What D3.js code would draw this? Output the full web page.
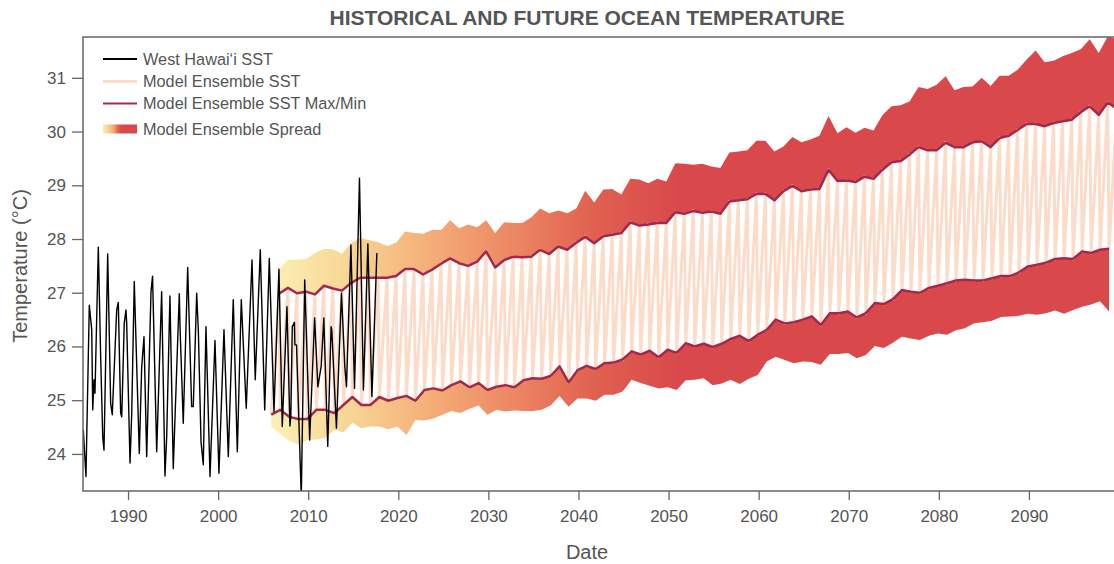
<!DOCTYPE html>
<html>
<head>
<meta charset="utf-8">
<script src="https://cdn.jsdelivr.net/npm/d3@7"></script>
<style>
  html, body { margin: 0; padding: 0; background: #fff; overflow: hidden; }
  svg { display: block; font-family: "Liberation Sans", Arial, Helvetica, sans-serif; }
</style>
</head>
<body>
<svg id="chart" width="1114" height="564"></svg>
<script>
// Observed West Hawai'i sea surface temperature (decimal year, °C)
const obsYear = [
  1985.03, 1985.33, 1985.70, 1985.97, 1986.08, 1986.22, 1986.33, 1986.70, 1986.96, 1987.19,
  1987.33, 1987.74, 1988.07, 1988.25, 1988.74, 1988.92, 1989.18, 1989.30, 1989.58, 1989.77,
  1989.85, 1990.22, 1990.41, 1990.69, 1991.25, 1991.51, 1991.77, 1992.07, 1992.55, 1992.72,
  1993.18, 1993.73, 1994.10, 1994.29, 1994.65, 1995.02, 1995.69, 1995.77, 1996.13, 1996.62,
  1997.06, 1997.24, 1997.62, 1997.80, 1998.10, 1998.35, 1998.65, 1999.10, 1999.65, 2000.09,
  2000.65, 2001.13, 2001.68, 2002.13, 2002.57, 2003.12, 2003.76, 2004.12, 2004.68, 2005.17,
  2005.68, 2006.20, 2006.75, 2007.12, 2007.64, 2007.97, 2008.07, 2008.23, 2008.47, 2008.52,
  2008.70, 2009.23, 2009.61, 2010.16, 2010.71, 2011.07, 2011.44, 2011.73, 2012.17, 2012.54,
  2012.62, 2013.13, 2013.69, 2014.06, 2014.25, 2014.74, 2015.14, 2015.69, 2016.13, 2016.62,
  2017.07, 2017.62
];
const obsTemp = [
  24.45, 23.58, 26.77, 26.31, 24.82, 25.38, 25.13, 27.85, 25.81, 24.32,
  24.07, 27.72, 24.94, 24.73, 26.68, 26.82, 24.76, 24.69, 26.43, 26.68,
  26.43, 23.83, 24.76, 27.21, 24.01, 25.60, 26.18, 23.95, 27.02, 27.31,
  24.04, 27.02, 23.59, 24.32, 26.94, 23.73, 26.98, 26.37, 24.57, 27.47,
  24.88, 24.88, 26.99, 26.31, 24.23, 23.80, 26.37, 23.58, 26.11, 23.64,
  26.31, 23.95, 26.87, 24.04, 26.87, 24.85, 27.61, 25.38, 27.80, 24.82,
  27.64, 24.79, 27.44, 24.51, 26.74, 24.52, 24.70, 26.37, 26.45, 26.03,
  26.03, 23.20, 27.24, 24.26, 26.53, 25.25, 25.63, 26.53, 24.14, 26.37,
  26.30, 24.48, 26.99, 25.63, 25.25, 27.89, 25.22, 29.13, 25.19, 27.91,
  25.07, 27.74
];

// Model ensemble: first projection year, then one value per year
const modelStartYear = 2006;
const ensembleMax = [
  26.98, 27.09, 26.99, 27.02, 26.97, 27.13, 27.08, 27.04, 27.18, 27.28,
  27.28, 27.28, 27.28, 27.31, 27.44, 27.44, 27.34, 27.43, 27.54, 27.64,
  27.55, 27.50, 27.58, 27.77, 27.47, 27.61, 27.67, 27.66, 27.67, 27.80,
  27.72, 27.86, 27.80, 27.93, 28.04, 27.92, 28.05, 28.08, 28.11, 28.31,
  28.25, 28.27, 28.30, 28.30, 28.50, 28.47, 28.52, 28.49, 28.51, 28.47,
  28.70, 28.72, 28.74, 28.84, 28.84, 28.72, 28.89, 28.99, 28.89, 28.92,
  28.93, 29.29, 29.08, 29.09, 29.06, 29.16, 29.12, 29.29, 29.43, 29.45,
  29.57, 29.71, 29.65, 29.65, 29.79, 29.71, 29.71, 29.80, 29.82, 29.71,
  29.88, 29.92, 30.03, 30.14, 30.14, 30.10, 30.16, 30.19, 30.22, 30.36,
  30.47, 30.31, 30.54, 30.43
];
const ensembleMin = [
  24.73, 24.82, 24.69, 24.65, 24.65, 24.82, 24.82, 24.76, 24.91, 25.06,
  24.91, 24.91, 25.06, 24.99, 25.04, 25.08, 24.99, 25.19, 25.22, 25.18,
  25.28, 25.35, 25.24, 25.32, 25.19, 25.25, 25.28, 25.24, 25.37, 25.41,
  25.40, 25.45, 25.63, 25.33, 25.56, 25.64, 25.58, 25.69, 25.70, 25.76,
  25.91, 25.85, 25.92, 25.80, 25.94, 25.88, 26.06, 26.00, 26.05, 25.99,
  26.05, 26.14, 26.20, 26.10, 26.22, 26.31, 26.50, 26.43, 26.45, 26.50,
  26.56, 26.40, 26.62, 26.62, 26.65, 26.54, 26.62, 26.81, 26.79, 26.88,
  27.05, 27.02, 27.00, 27.09, 27.13, 27.18, 27.23, 27.24, 27.23, 27.23,
  27.27, 27.31, 27.31, 27.38, 27.49, 27.52, 27.56, 27.63, 27.64, 27.63,
  27.77, 27.74, 27.80, 27.82
];
const spreadHigh = [
  27.44, 27.61, 27.62, 27.63, 27.74, 27.82, 27.81, 27.72, 27.92, 28.02,
  27.98, 27.94, 27.87, 27.93, 28.14, 28.11, 28.10, 28.17, 28.17, 28.35,
  28.20, 28.27, 28.22, 28.35, 28.11, 28.31, 28.30, 28.30, 28.40, 28.57,
  28.48, 28.53, 28.48, 28.57, 28.90, 28.68, 28.92, 28.93, 28.83, 29.12,
  29.11, 29.04, 29.12, 29.07, 29.41, 29.40, 29.38, 29.40, 29.35, 29.32,
  29.61, 29.63, 29.65, 29.83, 29.83, 29.63, 29.72, 29.90, 29.80, 29.85,
  29.92, 30.29, 29.97, 30.08, 29.98, 30.07, 30.02, 30.31, 30.47, 30.49,
  30.56, 30.83, 30.79, 30.87, 31.03, 30.77, 30.83, 30.84, 31.00, 30.85,
  31.04, 31.04, 31.15, 31.34, 31.51, 31.29, 31.32, 31.40, 31.46, 31.53,
  31.72, 31.46, 31.77, 31.72
];
const spreadLow = [
  24.51, 24.37, 24.24, 24.18, 24.26, 24.27, 24.30, 24.45, 24.40, 24.58,
  24.48, 24.51, 24.51, 24.46, 24.51, 24.35, 24.63, 24.62, 24.66, 24.73,
  24.80, 24.76, 24.84, 24.90, 24.73, 24.82, 24.79, 24.81, 24.80, 24.80,
  24.82, 24.90, 25.08, 24.88, 25.03, 25.03, 24.99, 25.10, 25.10, 25.16,
  25.38, 25.32, 25.27, 25.22, 25.24, 25.19, 25.37, 25.38, 25.41, 25.28,
  25.31, 25.38, 25.30, 25.40, 25.47, 25.72, 25.81, 25.75, 25.69, 25.72,
  25.71, 25.66, 25.86, 25.86, 25.88, 25.78, 25.84, 26.01, 25.97, 26.07,
  26.18, 26.15, 26.12, 26.20, 26.24, 26.22, 26.30, 26.34, 26.43, 26.45,
  26.48, 26.55, 26.56, 26.57, 26.61, 26.59, 26.62, 26.67, 26.61, 26.68,
  26.74, 26.78, 26.84, 26.65
];

const xTicks = [1990, 2000, 2010, 2020, 2030, 2040, 2050, 2060, 2070, 2080, 2090];
const yTicks = [24, 25, 26, 27, 28, 29, 30, 31];

const legendLabels = ["West Hawai\u2018i SST", "Model Ensemble SST", "Model Ensemble SST Max/Min", "Model Ensemble Spread"];

// ---- layout ----
const plot = { left: 83, right: 1119, top: 37, bottom: 491 };
const svg = d3.select("#chart");

const x = d3.scaleLinear().domain([1985, 2100]).range([plot.left, plot.right]);
const y = d3.scaleLinear().domain([23.31, 31.76]).range([plot.bottom, plot.top]);

// within-year timing of the annual warm peak and cool trough
const PEAK_OFFSET = 0.75;
const TROUGH_OFFSET = -0.1;

const COLORS = {
  text: "#555555",
  axis: "#666666",
  obs: "#000000",
  ens: "#fcdcc9",
  maxmin: "#a3294c",
  spread: ["#fbf0b4", "#f7d493", "#f4ac77", "#ec8663", "#e0604f", "#d9494c"]
};

const defs = svg.append("defs");
defs.append("clipPath").attr("id", "plotClip")
  .append("rect")
  .attr("x", plot.left).attr("y", plot.top)
  .attr("width", plot.right - plot.left).attr("height", plot.bottom - plot.top);

// spread colour ramps along time, pale yellow at the start of the projections to red by mid-century
const spreadGrad = defs.append("linearGradient").attr("id", "spreadGrad")
  .attr("gradientUnits", "userSpaceOnUse")
  .attr("x1", x(2006)).attr("x2", x(2051)).attr("y1", 0).attr("y2", 0);
COLORS.spread.forEach((c, i, a) => spreadGrad.append("stop")
  .attr("offset", i / (a.length - 1)).attr("stop-color", c));

const legendGrad = defs.append("linearGradient").attr("id", "legendGrad")
  .attr("x1", 0).attr("x2", 1).attr("y1", 0).attr("y2", 0);
[[0, COLORS.spread[0]], [0.15, COLORS.spread[1]], [0.3, COLORS.spread[2]], [0.45, COLORS.spread[4]], [0.55, COLORS.spread[5]], [1, COLORS.spread[5]]]
  .forEach(([o, c]) => legendGrad.append("stop").attr("offset", o).attr("stop-color", c));

// ---- data records ----
const model = ensembleMax.map((mx, i) => ({
  year: modelStartYear + i,
  max: mx,
  min: ensembleMin[i],
  hi: spreadHigh[i],
  lo: spreadLow[i]
}));
const obs = obsYear.map((t, i) => ({ t, v: obsTemp[i] }));

// monthly ensemble cycle: trough then peak in each year
const ensCycle = [];
model.forEach(d => {
  ensCycle.push({ t: d.year + TROUGH_OFFSET, v: d.min });
  ensCycle.push({ t: d.year + PEAK_OFFSET, v: d.max });
});

const g = svg.append("g").attr("clip-path", "url(#plotClip)");

// spread bands
g.append("path").datum(model)
  .attr("fill", "url(#spreadGrad)")
  .attr("d", d3.area().x(d => x(d.year + PEAK_OFFSET)).y0(d => y(d.max)).y1(d => y(d.hi)));
g.append("path").datum(model)
  .attr("fill", "url(#spreadGrad)")
  .attr("d", d3.area().x(d => x(d.year + TROUGH_OFFSET)).y0(d => y(d.lo)).y1(d => y(d.min)));

// ensemble SST cycle
g.append("path").datum(ensCycle)
  .attr("fill", "none").attr("stroke", COLORS.ens).attr("stroke-width", 3)
  .attr("stroke-linejoin", "round")
  .attr("d", d3.line().x(d => x(d.t)).y(d => y(d.v)));

// ensemble max / min
g.append("path").datum(model)
  .attr("fill", "none").attr("stroke", COLORS.maxmin).attr("stroke-width", 2.5)
  .attr("stroke-linejoin", "round")
  .attr("d", d3.line().x(d => x(d.year + PEAK_OFFSET)).y(d => y(d.max)));
g.append("path").datum(model)
  .attr("fill", "none").attr("stroke", COLORS.maxmin).attr("stroke-width", 2.5)
  .attr("stroke-linejoin", "round")
  .attr("d", d3.line().x(d => x(d.year + TROUGH_OFFSET)).y(d => y(d.min)));

// observations
g.append("path").datum(obs)
  .attr("fill", "none").attr("stroke", COLORS.obs).attr("stroke-width", 1.4)
  .attr("stroke-linejoin", "round")
  .attr("d", d3.line().x(d => x(d.t)).y(d => y(d.v)));

// ---- frame & axes ----
svg.append("rect")
  .attr("x", plot.left).attr("y", plot.top)
  .attr("width", plot.right - plot.left).attr("height", plot.bottom - plot.top)
  .attr("fill", "none").attr("stroke", COLORS.axis).attr("stroke-width", 1.5);

const yAxis = svg.append("g").attr("transform", `translate(${plot.left},0)`)
  .call(d3.axisLeft(y).tickValues(yTicks).tickFormat(d3.format("d")).tickSize(11).tickPadding(6));
const xAxis = svg.append("g").attr("transform", `translate(0,${plot.bottom})`)
  .call(d3.axisBottom(x).tickValues(xTicks).tickFormat(d3.format("d")).tickSize(9).tickPadding(10));
[yAxis, xAxis].forEach(a => {
  a.select(".domain").remove();
  a.selectAll(".tick line").attr("stroke", COLORS.axis).attr("stroke-width", 1.3);
  a.selectAll(".tick text").attr("fill", COLORS.text).attr("font-size", 17)
    .attr("font-family", "Liberation Sans, Arial, sans-serif");
});

// titles
svg.append("text")
  .attr("x", 587).attr("y", 25).attr("text-anchor", "middle")
  .attr("font-size", 21).attr("font-weight", "bold").attr("fill", COLORS.text)
  .text("HISTORICAL AND FUTURE OCEAN TEMPERATURE");
svg.append("text")
  .attr("x", 587).attr("y", 559).attr("text-anchor", "middle")
  .attr("font-size", 20).attr("fill", COLORS.text)
  .text("Date");
svg.append("text")
  .attr("transform", `translate(27,${(plot.top + plot.bottom) / 2 + 2}) rotate(-90)`)
  .attr("text-anchor", "middle")
  .attr("font-size", 20).attr("fill", COLORS.text)
  .text("Temperature (\u00B0C)");

// ---- legend ----
const lg = svg.append("g");
const rows = [59, 81.5, 103.5, 129];
const sw = { x0: 103, x1: 137 };
lg.append("line").attr("x1", sw.x0).attr("x2", sw.x1).attr("y1", rows[0]).attr("y2", rows[0])
  .attr("stroke", COLORS.obs).attr("stroke-width", 2.2);
lg.append("line").attr("x1", sw.x0).attr("x2", sw.x1).attr("y1", rows[1]).attr("y2", rows[1])
  .attr("stroke", COLORS.ens).attr("stroke-width", 3);
lg.append("line").attr("x1", sw.x0).attr("x2", sw.x1).attr("y1", rows[2]).attr("y2", rows[2])
  .attr("stroke", COLORS.maxmin).attr("stroke-width", 2.2);
lg.append("rect").attr("x", sw.x0).attr("y", rows[3] - 4.5).attr("width", sw.x1 - sw.x0).attr("height", 9)
  .attr("fill", "url(#legendGrad)");
legendLabels.forEach((t, i) => {
  lg.append("text").attr("x", 143).attr("y", rows[i]).attr("dy", "0.35em")
    .attr("font-size", 16.3).attr("fill", COLORS.text).text(t);
});
</script>
</body>
</html>
